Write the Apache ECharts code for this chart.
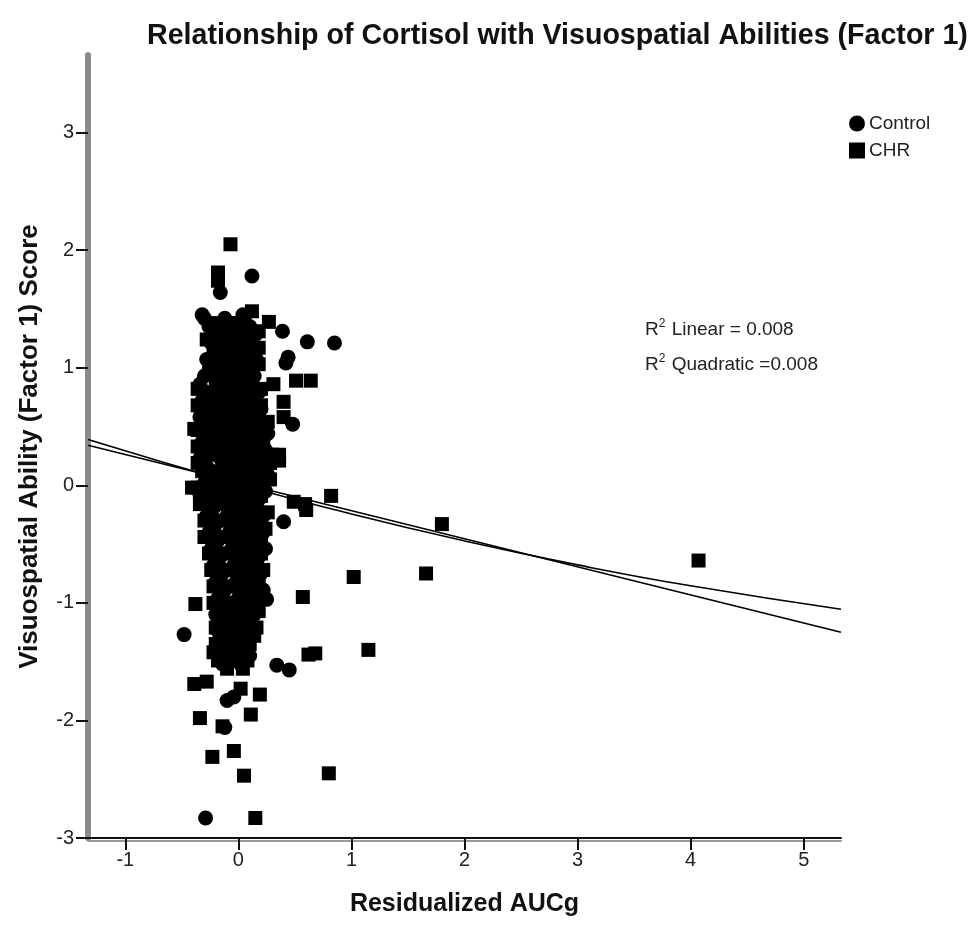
<!DOCTYPE html>
<html>
<head>
<meta charset="utf-8">
<script src="https://cdn.jsdelivr.net/npm/echarts@6/dist/echarts.min.js"></script>
<style>
  html, body { margin: 0; background: #fff; }
  #chart { width: 974px; height: 925px; }
</style>
</head>
<body>
<div id="chart"></div>
<script>
const xTicks = [-1, 0, 1, 2, 3, 4, 5];
const yTicks = [-3, -2, -1, 0, 1, 2, 3];

// dense cluster, one row per y level: [y, [x, ...]]
const controlRows = [
  [1.42, [-0.30, -0.12, 0.05]],
  [1.35, [-0.26, -0.05, 0.10]],
  [1.28, [-0.20, -0.02, 0.15]],
  [1.21, [-0.24, -0.08, 0.08]],
  [1.14, [-0.18, 0.00, 0.12]],
  [1.07, [-0.28, -0.10, 0.05, 0.16]],
  [1.00, [-0.22, -0.04, 0.10]],
  [0.93, [-0.30, -0.14, 0.02, 0.14]],
  [0.86, [-0.34, -0.18, -0.02, 0.12]],
  [0.79, [-0.28, -0.10, 0.06, 0.18]],
  [0.72, [-0.32, -0.16, 0.00, 0.14]],
  [0.65, [-0.26, -0.08, 0.08, 0.20]],
  [0.58, [-0.34, -0.18, -0.02, 0.15]],
  [0.51, [-0.28, -0.10, 0.06, 0.22]],
  [0.44, [-0.22, -0.04, 0.12, 0.26]],
  [0.37, [-0.32, -0.14, 0.02, 0.18]],
  [0.30, [-0.26, -0.08, 0.10, 0.24]],
  [0.23, [-0.34, -0.16, 0.00, 0.16]],
  [0.16, [-0.28, -0.10, 0.06, 0.22]],
  [0.09, [-0.20, -0.02, 0.14, 0.26]],
  [0.02, [-0.30, -0.12, 0.04, 0.20]],
  [-0.05, [-0.24, -0.06, 0.10, 0.24]],
  [-0.12, [-0.30, -0.14, 0.02, 0.18]],
  [-0.19, [-0.22, -0.04, 0.12]],
  [-0.26, [-0.28, -0.10, 0.06, 0.22]],
  [-0.33, [-0.20, -0.02, 0.14]],
  [-0.40, [-0.26, -0.08, 0.08, 0.22]],
  [-0.47, [-0.18, 0.00, 0.16]],
  [-0.54, [-0.24, -0.06, 0.10, 0.24]],
  [-0.61, [-0.16, 0.02, 0.18]],
  [-0.68, [-0.22, -0.04, 0.12]],
  [-0.75, [-0.14, 0.04, 0.20]],
  [-0.82, [-0.20, -0.02, 0.14]],
  [-0.89, [-0.12, 0.06, 0.22]],
  [-0.96, [-0.18, 0.00, 0.16]],
  [-1.03, [-0.10, 0.08]],
  [-1.10, [-0.20, -0.02, 0.14]],
  [-1.17, [-0.12, 0.06]],
  [-1.24, [-0.18, 0.00, 0.12]],
  [-1.31, [-0.10, 0.08]],
  [-1.38, [-0.16, -0.02]],
  [-1.45, [-0.08, 0.10]],
  [-1.52, [-0.14, 0.02]]
];
const chrRows = [
  [1.38, [-0.20, 0.00]],
  [1.31, [-0.12, 0.06, 0.18]],
  [1.24, [-0.28, -0.14, 0.02]],
  [1.17, [-0.10, 0.06, 0.18]],
  [1.10, [-0.22, -0.04, 0.10]],
  [1.03, [-0.16, 0.00, 0.18]],
  [0.96, [-0.26, -0.08, 0.06]],
  [0.89, [-0.20, -0.04, 0.10]],
  [0.82, [-0.36, -0.08, 0.04, 0.20]],
  [0.75, [-0.22, -0.06, 0.08]],
  [0.68, [-0.36, -0.12, 0.04, 0.20]],
  [0.61, [-0.20, -0.02, 0.12]],
  [0.54, [-0.32, -0.14, 0.02, 0.26]],
  [0.47, [-0.36, -0.18, 0.00, 0.16]],
  [0.40, [-0.26, -0.08, 0.08, 0.22]],
  [0.33, [-0.36, -0.20, 0.04, 0.14]],
  [0.26, [-0.22, -0.04, 0.12, 0.30]],
  [0.19, [-0.36, -0.06, 0.10, 0.28]],
  [0.12, [-0.32, -0.16, 0.02, 0.18]],
  [0.05, [-0.24, -0.06, 0.10, 0.28]],
  [-0.02, [-0.36, -0.18, 0.00, 0.14]],
  [-0.09, [-0.26, -0.10, 0.06, 0.20]],
  [-0.16, [-0.34, -0.18, -0.02, 0.16]],
  [-0.23, [-0.24, -0.06, 0.10, 0.26]],
  [-0.30, [-0.30, -0.14, 0.02, 0.18]],
  [-0.37, [-0.22, -0.06, 0.10, 0.24]],
  [-0.44, [-0.30, -0.12, 0.04, 0.20]],
  [-0.51, [-0.20, -0.02, 0.14]],
  [-0.58, [-0.26, -0.10, 0.06, 0.20]],
  [-0.65, [-0.18, 0.00, 0.16]],
  [-0.72, [-0.24, -0.08, 0.08, 0.22]],
  [-0.79, [-0.16, 0.02, 0.18]],
  [-0.86, [-0.22, -0.06, 0.10]],
  [-0.93, [-0.14, 0.04, 0.20]],
  [-1.00, [-0.22, -0.04, 0.12]],
  [-1.07, [-0.14, 0.04, 0.18]],
  [-1.14, [-0.08, 0.10]],
  [-1.21, [-0.20, -0.04, 0.16]],
  [-1.28, [-0.12, 0.04, 0.14]],
  [-1.35, [-0.20, -0.06, 0.10]],
  [-1.42, [-0.22, -0.10, 0.06]],
  [-1.49, [-0.18, -0.02, 0.08]],
  [-1.56, [-0.10, 0.04]]
];

// scattered points outside the cluster: [x, y]
const controlOutliers = [
  [-0.16, 1.64], [0.12, 1.78], [-0.32, 1.45], [0.04, 1.45], [0.39, 1.31],
  [0.61, 1.22], [0.85, 1.21], [0.44, 1.09], [0.42, 1.04], [0.48, 0.52],
  [-0.34, -0.08], [0.40, -0.31], [0.25, -0.97], [-0.48, -1.27], [0.34, -1.53],
  [0.45, -1.57], [-0.10, -1.83], [-0.04, -1.80], [-0.12, -2.06], [-0.29, -2.83]
];
const chrOutliers = [
  [-0.07, 2.05], [-0.18, 1.81], [-0.18, 1.74], [0.12, 1.48], [0.27, 1.39],
  [0.31, 0.86], [0.51, 0.89], [0.64, 0.89], [0.40, 0.71], [0.40, 0.58],
  [0.36, 0.26], [0.36, 0.21], [-0.39, 0.48], [-0.41, -0.02], [0.49, -0.14],
  [0.59, -0.16], [0.60, -0.21], [0.82, -0.09], [1.80, -0.33], [4.07, -0.64],
  [1.02, -0.78], [1.66, -0.75], [0.57, -0.95], [1.15, -1.40], [0.62, -1.44],
  [0.68, -1.43], [0.80, -2.45], [0.15, -2.83], [0.05, -2.47], [-0.04, -2.26],
  [-0.23, -2.31], [-0.34, -1.98], [-0.14, -2.05], [0.11, -1.95], [0.19, -1.78],
  [0.02, -1.73], [-0.39, -1.69], [-0.28, -1.67], [-0.38, -1.01]
];

// fit lines
const linearFit = [[-1.33, 0.34], [5.33, -1.25]];
const quadraticFit = [[-1.33, 0.39], [0, 0.011], [1, -0.244], [2, -0.473], [3, -0.677], [4, -0.855], [5.33, -1.054]];

const flattenRows = (rows) => rows.flatMap(([y, xs]) => xs.map((x) => [x, y]));
const controlData = flattenRows(controlRows).concat(controlOutliers);
const chrData = flattenRows(chrRows).concat(chrOutliers);

const FONT = "'Liberation Sans', Arial, sans-serif";
const NARROW = "'Liberation Sans Narrow', 'Arial Narrow', 'Liberation Sans', sans-serif";
const X_MIN = -1.33, X_MAX = 5.33, Y_MIN = -3, Y_MAX = 3.66;

const statRich = {
  t: { fontFamily: FONT, fontSize: 19, fontWeight: "normal", color: "#222", lineHeight: 24 },
  s: { fontFamily: FONT, fontSize: 12, fontWeight: "normal", color: "#222", lineHeight: 24, verticalAlign: "top", padding: [0, 1, 10, 0] },
};

const chart = echarts.init(document.getElementById("chart"), null, { renderer: "canvas" });

const option = {
  animation: false,
  backgroundColor: "#ffffff",
  textStyle: { fontFamily: FONT },
  title: [
    {
      text: "Relationship of Cortisol with Visuospatial Abilities (Factor 1)",
      left: 142,
      top: 17,
      textStyle: { fontFamily: FONT, fontSize: 28.6, fontWeight: "bold", color: "#111" },
    },
    {
      text: "{t|R}{s|2}{t| Linear = 0.008}",
      left: 640,
      top: 313,
      textStyle: { fontWeight: "normal", rich: statRich },
    },
    {
      text: "{t|R}{s|2}{t| Quadratic =0.008}",
      left: 640,
      top: 348,
      textStyle: { fontWeight: "normal", rich: statRich },
    },
  ],
  legend: {
    data: [
      { name: "Control", icon: "circle" },
      { name: "CHR", icon: "rect" },
    ],
    orient: "vertical",
    left: 844,
    top: 109,
    itemWidth: 16,
    itemHeight: 16,
    itemGap: 8,
    textStyle: { fontFamily: FONT, fontSize: 19, color: "#222", padding: [0, 0, 0, -1] },
  },
  grid: { left: 88, right: 133, top: 55, bottom: 87, containLabel: false },
  xAxis: [
    {
      type: "value",
      min: X_MIN,
      max: X_MAX,
      name: "Residualized AUCg",
      nameLocation: "middle",
      nameGap: 54,
      nameTextStyle: { fontFamily: FONT, fontSize: 25, fontWeight: "bold", color: "#111" },
      splitLine: { show: false },
      axisLine: { onZero: false, lineStyle: { color: "#111", width: 2 } },
      axisTick: { customValues: xTicks, length: 12, lineStyle: { color: "#111", width: 2 } },
      axisLabel: { customValues: xTicks, fontFamily: NARROW, fontSize: 20, color: "#222", margin: 12 },
    },
    {
      type: "value",
      min: X_MIN,
      max: X_MAX,
      position: "bottom",
      offset: 3,
      splitLine: { show: false },
      axisLine: { onZero: false, lineStyle: { color: "#9a9a9a", width: 2 } },
      axisTick: { show: false },
      axisLabel: { show: false },
    },
  ],
  yAxis: {
    type: "value",
    min: Y_MIN,
    max: Y_MAX,
    name: "Visuospatial Ability (Factor 1) Score",
    nameLocation: "middle",
    nameGap: 45,
    nameTextStyle: { fontFamily: FONT, fontSize: 26, fontWeight: "bold", color: "#111" },
    splitLine: { show: false },
    axisLine: { onZero: false, lineStyle: { color: "#8c8c8c", width: 6 } },
    axisTick: { customValues: yTicks, length: 12, lineStyle: { color: "#111", width: 2 } },
    axisLabel: { customValues: yTicks, fontFamily: NARROW, fontSize: 20, color: "#222", margin: 14 },
  },
  series: [
    {
      name: "Control",
      type: "scatter",
      symbol: "circle",
      symbolSize: 15,
      itemStyle: { color: "#000", opacity: 1 },
      data: controlData,
      z: 3,
    },
    {
      name: "CHR",
      type: "scatter",
      symbol: "rect",
      symbolSize: 14,
      itemStyle: { color: "#000", opacity: 1 },
      data: chrData,
      z: 3,
    },
    {
      name: "Linear fit",
      type: "line",
      data: linearFit,
      showSymbol: false,
      symbol: "none",
      lineStyle: { color: "#000", width: 1.6 },
      z: 4,
    },
    {
      name: "Quadratic fit",
      type: "line",
      data: quadraticFit,
      smooth: true,
      showSymbol: false,
      symbol: "none",
      lineStyle: { color: "#000", width: 1.6 },
      z: 4,
    },
  ],
};

chart.setOption(option);
</script>
</body>
</html>
